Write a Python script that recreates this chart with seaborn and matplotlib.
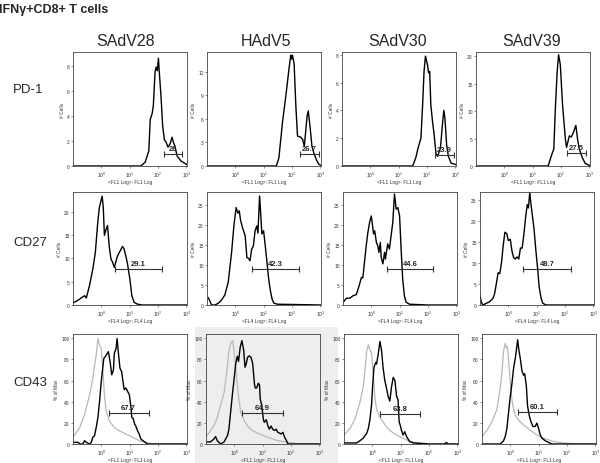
import numpy as np
import matplotlib
matplotlib.use('Agg')
import matplotlib.pyplot as plt
from matplotlib.patches import Rectangle
from matplotlib.ticker import LogLocator, LogFormatterMathtext
import seaborn as sns

sns.set_style("white")
plt.rcParams['font.family'] = ['Liberation Sans', 'DejaVu Sans']

# ---- data (log10 of fluorescence, counts / % of max) ----
viruses = ["SAdV28", "HAdV5", "SAdV30", "SAdV39"]
markers = ["PD-1", "CD27", "CD43"]

pd1_sadv28_x = [-1.0, 1.40, 1.55, 1.68, 1.73, 1.80, 1.84, 1.90, 1.94, 1.98, 2.02, 2.05, 2.11, 2.17,
                2.23, 2.29, 2.36, 2.44, 2.50, 2.55, 2.60, 2.68, 2.82, 2.96, 3.03]
pd1_sadv28_y = [0, 0, 0.3, 1.2, 3.7, 4.2, 4.8, 7.5, 7.9, 7.6, 8.6, 7.5, 5.6, 3.2,
                2.1, 1.9, 1.5, 1.8, 2.3, 1.9, 1.6, 0.8, 0.4, 0.2, 0.1]
pd1_hadv5_x = [-1.0, 1.45, 1.54, 1.67, 1.79, 1.90, 1.96, 1.99, 2.02, 2.08, 2.14, 2.20, 2.30, 2.38,
               2.44, 2.54, 2.58, 2.64, 2.71, 2.79, 2.89, 2.96, 3.03]
pd1_hadv5_y = [0, 0, 1.0, 5.6, 9.0, 12.4, 14.1, 13.6, 14.1, 13.0, 7.7, 3.8, 3.7, 3.4,
               2.5, 6.4, 7.0, 5.1, 2.5, 1.5, 0.6, 0.2, 0.1]
pd1_sadv30_x = [-1.0, 1.50, 1.61, 1.69, 1.79, 1.85, 1.90, 1.95, 2.02, 2.06, 2.10, 2.14, 2.20, 2.26,
                2.32, 2.38, 2.48, 2.56, 2.60, 2.64, 2.70, 2.76, 2.86, 3.03]
pd1_sadv30_y = [0, 0, 0.6, 1.3, 2.0, 4.4, 6.8, 7.9, 7.3, 6.7, 6.8, 4.4, 3.2, 2.2,
                0.9, 0.7, 1.3, 3.2, 4.0, 3.4, 1.5, 0.7, 0.2, 0.1]
pd1_sadv39_x = [-1.0, 1.55, 1.66, 1.75, 1.81, 1.87, 1.92, 1.98, 2.06, 2.16, 2.20, 2.30, 2.37, 2.44,
                2.53, 2.59, 2.65, 2.76, 2.86, 2.96, 3.03]
pd1_sadv39_y = [0, 0, 1.8, 3.1, 11.1, 17.3, 20.3, 18.5, 11.1, 4.9, 3.4, 5.5, 5.3, 6.1,
                7.4, 4.9, 3.1, 1.5, 0.5, 0.2, 0.1]

cd27_sadv28_x = [-0.98, -0.83, -0.59, -0.53, -0.42, -0.30, -0.21, -0.13, -0.07, 0.03, 0.07, 0.11, 0.17,
                 0.22, 0.28, 0.34, 0.40, 0.46, 0.57, 0.75, 0.81, 0.92, 1.01, 1.08, 1.16, 1.27, 1.45, 3.03]
cd27_sadv28_y = [0.5, 1.0, 2.0, 1.5, 4.1, 7.7, 11.3, 17.4, 20.9, 23.4, 21.0, 15.0, 16.3,
                 17.1, 12.7, 9.9, 9.2, 8.1, 10.5, 12.6, 12.0, 9.1, 5.6, 2.0, 0.6, 0.2, 0, 0]
cd27_hadv5_x = [-0.96, -0.90, -0.84, -0.72, -0.61, -0.49, -0.37, -0.25, -0.13, -0.05, 0.03, 0.09, 0.14,
                0.19, 0.25, 0.35, 0.41, 0.46, 0.52, 0.58, 0.64, 0.70, 0.76, 0.80, 0.86, 0.91, 0.94,
                1.00, 1.06, 1.12, 1.18, 1.24, 1.30, 1.36, 1.48, 3.03]
cd27_hadv5_y = [1.9, 1.0, 0, 0, 0.4, 1.2, 2.5, 5.7, 13.2, 19.8, 24.4, 23.0, 23.6,
                21.1, 19.5, 17.3, 11.9, 11.7, 11.1, 14.0, 14.8, 18.6, 19.8, 18.0, 27.3, 21.5, 17.8,
                18.6, 14.8, 10.7, 6.5, 3.6, 1.5, 0.5, 0.2, 0]
cd27_sadv30_x = [-0.98, -0.88, -0.76, -0.65, -0.53, -0.41, -0.35, -0.30, -0.24, -0.18, -0.12, -0.06,
                 0.00, 0.04, 0.08, 0.12, 0.18, 0.23, 0.27, 0.32, 0.35, 0.41, 0.47, 0.50, 0.58, 0.64,
                 0.70, 0.76, 0.82, 0.88, 0.94, 1.00, 1.06, 1.11, 1.17, 1.23, 1.35, 2.0, 3.03]
cd27_sadv30_y = [0.8, 1.7, 1.7, 2.3, 2.6, 5.3, 6.9, 6.8, 10.7, 14.8, 18.2, 20.7,
                 22.3, 20.1, 17.8, 18.6, 15.7, 14.8, 13.2, 15.7, 11.9, 10.3, 13.2, 11.5, 15.3, 14.0,
                 17.3, 20.7, 27.8, 24.0, 24.4, 22.3, 13.2, 6.5, 2.3, 0.7, 0.2, 0, 0]
cd27_sadv39_x = [-1.0, -0.96, -0.90, -0.78, -0.66, -0.54, -0.48, -0.42, -0.36, -0.30, -0.24, -0.18,
                 -0.12, -0.05, 0.00, 0.07, 0.13, 0.19, 0.25, 0.31, 0.37, 0.43, 0.49, 0.55, 0.61, 0.67,
                 0.71, 0.76, 0.79, 0.85, 0.91, 0.97, 1.04, 1.09, 1.16, 1.22, 1.34, 3.03]
cd27_sadv39_y = [2.4, 0.8, 0, 0.4, 0.8, 1.6, 2.8, 5.2, 7.7, 7.5, 10.1, 14.2,
                 17.4, 17.0, 15.4, 15.7, 12.9, 11.3, 11.0, 11.5, 11.0, 13.6, 13.6, 16.8, 20.8, 24.0,
                 23.2, 26.9, 24.8, 21.4, 18.2, 13.4, 8.5, 4.4, 1.6, 0.4, 0, 0]

cd43_sadv28_x = [-0.98, -0.82, -0.76, -0.65, -0.59, -0.53, -0.41, -0.35, -0.30, -0.24, -0.18, -0.12,
                 -0.06, 0.00, 0.05, 0.09, 0.14, 0.19, 0.25, 0.31, 0.37, 0.43, 0.46, 0.52, 0.56, 0.60,
                 0.66, 0.72, 0.75, 0.81, 0.87, 0.93, 0.99, 1.05, 1.08, 1.13, 1.18, 1.22, 1.28, 1.34,
                 1.40, 1.52, 1.63, 3.03]
cd43_sadv28_y = [1.6, 1.6, 0, 0, 3.2, 1.6, 0, 1.6, 6.3, 7.8, 15.6, 25.0,
                 40.6, 59.3, 71.7, 81.0, 82.5, 84.8, 87.3, 78.0, 65.4, 70.0, 85.7, 90.0, 99.7, 87.3,
                 71.7, 68.5, 62.3, 51.4, 53.0, 49.8, 46.7, 34.3, 25.0, 24.0, 18.7, 17.1, 12.5, 9.4,
                 4.7, 2.2, 0, 0]
cd43_sadv28_ctrl_x = [-1.0, -0.76, -0.59, -0.41, -0.30, -0.18, -0.12, -0.06, 0.00, 0.05, 0.11, 0.17,
                      0.29, 0.46, 0.64, 0.87, 1.11, 1.34, 1.58, 1.81, 3.03]
cd43_sadv28_ctrl_y = [6.3, 15.6, 28.0, 46.7, 62.3, 84.0, 99.7, 93.5, 90.4, 71.7, 46.7, 31.2,
                      21.8, 15.6, 12.5, 9.4, 6.3, 3.1, 1.6, 0, 0]
cd43_hadv5_x = [-0.96, -0.84, -0.72, -0.66, -0.60, -0.48, -0.36, -0.24, -0.19, -0.13, -0.06, -0.01,
                0.05, 0.11, 0.15, 0.21, 0.27, 0.33, 0.38, 0.42, 0.47, 0.53, 0.59, 0.65, 0.71, 0.74,
                0.79, 0.85, 0.89, 0.92, 0.97, 1.03, 1.06, 1.13, 1.19, 1.24, 1.30, 1.36, 1.42, 1.48,
                1.54, 1.66, 1.72, 1.78, 1.84, 1.90, 3.03]
cd43_hadv5_y = [2, 2, 4.7, 7, 3, 0, 2, 8, 14, 30, 48.5, 60.5,
                76, 83, 78, 91.6, 97.7, 89, 72.6, 75.5, 82, 83.3, 82, 76, 57.5, 53,
                53, 57.5, 56, 42, 37, 23, 20.5, 23, 17, 14, 17, 14, 12.8, 14,
                11, 9.5, 11, 6.3, 3.4, 0, 0]
cd43_hadv5_ctrl_x = [-0.96, -0.84, -0.72, -0.60, -0.48, -0.36, -0.27, -0.19, -0.13, -0.06, -0.01, 0.05,
                     0.11, 0.17, 0.23, 0.35, 0.47, 0.65, 0.89, 1.19, 1.54, 1.90, 2.26, 3.03]
cd43_hadv5_ctrl_y = [8, 12.6, 17.4, 25, 37, 48.5, 67, 88.4, 94.6, 97.7, 88.4, 73,
                     54.6, 40.6, 29.7, 22, 17, 12.5, 9.4, 6.3, 3.1, 1.6, 0, 0]
cd43_sadv30_x = [-1.0, -0.55, -0.44, -0.32, -0.20, -0.14, -0.08, -0.02, 0.01, 0.06, 0.12, 0.15,
                 0.21, 0.27, 0.33, 0.38, 0.44, 0.50, 0.56, 0.62, 0.68, 0.74, 0.80, 0.86, 0.91, 0.95,
                 1.00, 1.03, 1.09, 1.15, 1.21, 1.32, 1.44, 2.0, 2.55, 2.62, 2.68, 3.03]
cd43_sadv30_y = [1, 1, 3, 5.5, 10, 14.6, 23.7, 39, 54, 72.5, 77, 75.5,
                 85, 97, 88, 72.5, 60.5, 53, 45, 40.6, 54, 63, 60, 45, 42, 21,
                 16.6, 13, 8.5, 11.6, 7, 2.4, 1, 0, 0, 1.5, 0, 0]
cd43_sadv30_ctrl_x = [-1.0, -0.79, -0.61, -0.44, -0.32, -0.26, -0.20, -0.14, -0.08, -0.02, 0.03, 0.09,
                      0.15, 0.27, 0.38, 0.50, 0.68, 0.86, 1.09, 1.32, 1.68, 2.03, 3.03]
cd43_sadv30_ctrl_y = [8.5, 14.6, 23.7, 39, 54, 69.4, 87.6, 93.7, 89, 85, 66.4, 45,
                      33, 25.4, 21, 16.2, 11.6, 8.5, 5.5, 2.4, 1, 0, 0]
cd43_sadv39_x = [-1.0, -0.35, -0.24, -0.18, -0.12, -0.06, 0.00, 0.06, 0.12, 0.18, 0.21, 0.26,
                 0.31, 0.35, 0.41, 0.47, 0.51, 0.57, 0.61, 0.67, 0.73, 0.80, 0.88, 0.94, 1.00, 1.06,
                 1.12, 1.24, 1.35, 1.47, 3.03]
cd43_sadv39_y = [0, 0, 3, 7, 14.6, 30, 45, 57.5, 72.5, 81.6, 87.6, 98.5,
                 87.6, 81.6, 69.4, 65, 66.4, 54, 36, 27, 21, 16.6, 16.6, 19.8, 14.6, 8.5,
                 5.5, 3, 1.6, 0, 0]
cd43_sadv39_ctrl_x = [-1.0, -0.82, -0.65, -0.47, -0.35, -0.29, -0.24, -0.18, -0.14, -0.10, -0.04, 0.02,
                      0.09, 0.18, 0.29, 0.47, 0.71, 0.94, 1.18, 1.53, 1.88, 2.36, 3.03]
cd43_sadv39_ctrl_y = [7, 13, 21, 33, 54, 69.4, 87.6, 95.2, 90.6, 92, 72.5, 51.2,
                      36, 27, 22.5, 18, 13, 8.5, 5.5, 2.4, 1, 0, 0]

# gates (log10 bounds, height) and percentages
gate_lo = [2.23, 2.29, 2.29, 2.23, 0.49, 0.59, 0.55, 0.53, 0.26, 0.26, 0.27, 0.27]
gate_hi = [2.86, 2.96, 2.95, 2.88, 2.15, 2.25, 2.19, 2.22, 1.67, 1.72, 1.68, 1.65]
gate_y = [0.94, 1.5, 0.8, 2.4, 7.7, 9.0, 9.0, 8.5, 29.6, 29.0, 28.5, 30.0]
gate_pct = ["26", "26.7", "23.9", "27.5", "29.1", "42.3", "44.6", "48.7", "67.7", "64.9", "63.8", "60.1"]

y_max = [9.1, 14.5, 8.2, 20.8, 24.3, 28.3, 28.3, 27.0, 104, 104, 104, 104]
y_ticks = [[0, 2, 4, 6, 8], [0, 3, 6, 9, 12], [0, 2, 4, 6, 8], [0, 5, 10, 15, 20],
           [0, 5, 10, 15, 20], [0, 5, 10, 15, 20, 25], [0, 5, 10, 15, 20, 25], [0, 5, 10, 15, 20, 25],
           [0, 20, 40, 60, 80, 100]] + [[0, 20, 40, 60, 80, 100]] * 3

curves = [
    (pd1_sadv28_x, pd1_sadv28_y, None, None),
    (pd1_hadv5_x, pd1_hadv5_y, None, None),
    (pd1_sadv30_x, pd1_sadv30_y, None, None),
    (pd1_sadv39_x, pd1_sadv39_y, None, None),
    (cd27_sadv28_x, cd27_sadv28_y, None, None),
    (cd27_hadv5_x, cd27_hadv5_y, None, None),
    (cd27_sadv30_x, cd27_sadv30_y, None, None),
    (cd27_sadv39_x, cd27_sadv39_y, None, None),
    (cd43_sadv28_x, cd43_sadv28_y, cd43_sadv28_ctrl_x, cd43_sadv28_ctrl_y),
    (cd43_hadv5_x, cd43_hadv5_y, cd43_hadv5_ctrl_x, cd43_hadv5_ctrl_y),
    (cd43_sadv30_x, cd43_sadv30_y, cd43_sadv30_ctrl_x, cd43_sadv30_ctrl_y),
    (cd43_sadv39_x, cd43_sadv39_y, cd43_sadv39_ctrl_x, cd43_sadv39_ctrl_y),
]

# ---- layout (pixels on a 600x464 canvas) ----
W, H = 600, 464
row_top = [53, 193, 335]
row_bottom = [167, 306, 445]
col_left = [[73, 207, 342, 476], [73, 207, 343, 480], [73, 206, 344, 482]]
panel_w = 114
x_labels = ["<FL1 Log>: FL1 Log", "<FL4 Log>: FL4 Log", "<FL1 Log>: FL1 Log"]
y_labels = ["# Cells", "# Cells", "% of Max"]

fig = plt.figure(figsize=(W / 100, H / 100), dpi=100)
fig.patch.set_facecolor('white')

# light grey backdrop that sits behind the HAdV5 / CD43 panel in the original
fig.patches.append(Rectangle((195 / W, 0), (338 - 195) / W, (464 - 328) / H,
                             transform=fig.transFigure, facecolor='#eeeeee',
                             edgecolor='none', zorder=-10))

for r in range(3):
    for c in range(4):
        i = r * 4 + c
        left = col_left[r][c]
        ax = fig.add_axes([left / W, 1 - row_bottom[r] / H,
                           panel_w / W, (row_bottom[r] - row_top[r]) / H])
        ax.set_facecolor('#eeeeee' if i == 9 else 'white')
        xs, ys, cx, cy = curves[i]
        if cx is not None:
            sns.lineplot(x=10 ** np.array(cx), y=cy, ax=ax, color='#b8b8b8',
                         lw=0.9, sort=False, estimator=None)
        sns.lineplot(x=10 ** np.array(xs), y=ys, ax=ax, color='black',
                     lw=1.0, sort=False, estimator=None)

        # gate bar with end caps and percentage
        lo, hi = 10 ** gate_lo[i], 10 ** gate_hi[i]
        ax.plot([lo, hi], [gate_y[i], gate_y[i]], color='#333333', lw=0.8,
                marker='|', markersize=4, mew=0.8)
        ax.annotate(gate_pct[i], (np.sqrt(lo * hi), gate_y[i]), xytext=(0, 1.5),
                    textcoords='offset points', ha='center', va='bottom',
                    fontsize=5.5, fontweight='bold')

        ax.set_xscale('log')
        ax.set_xlim(10 ** -1.0, 10 ** 3.03)
        ax.set_ylim(0, y_max[i])
        ax.set_xticks([1, 10, 100, 1000])
        ax.xaxis.set_major_formatter(LogFormatterMathtext())
        ax.xaxis.set_minor_locator(LogLocator(base=10, subs=np.arange(2, 10), numticks=20))
        ax.set_yticks(y_ticks[i])
        ax.tick_params(axis='both', which='major', labelsize=3.5, length=1.6,
                       width=0.4, pad=0.8, direction='out', colors='#333333')
        ax.tick_params(axis='x', which='minor', length=1.0, width=0.3, colors='#333333')
        ax.tick_params(left=True, bottom=True)
        ax.set_xlabel(x_labels[r], fontsize=3.5, labelpad=0.3, color='#333333')
        ax.set_ylabel(y_labels[r], fontsize=3.5, labelpad=1.5, color='#333333')
        for s in ax.spines.values():
            s.set_visible(True)
            s.set_linewidth(0.6)
            s.set_color('#444444')

fig.text(-0.002, 1 - 10 / H, "IFNγ+CD8+ T cells", fontsize=9, fontweight='bold',
         va='center', ha='left')
header_x = [126, 266, 398, 532]
for c, name in enumerate(viruses):
    fig.text(header_x[c] / W, 1 - 41 / H, name, fontsize=11.5, ha='center', va='center')
row_label_y = [90, 243, 383]
for r, name in enumerate(markers):
    fig.text(13 / W, 1 - row_label_y[r] / H, name, fontsize=9.5, ha='left', va='center')

fig.savefig('out.png', dpi=100, facecolor='white')
plt.close(fig)
